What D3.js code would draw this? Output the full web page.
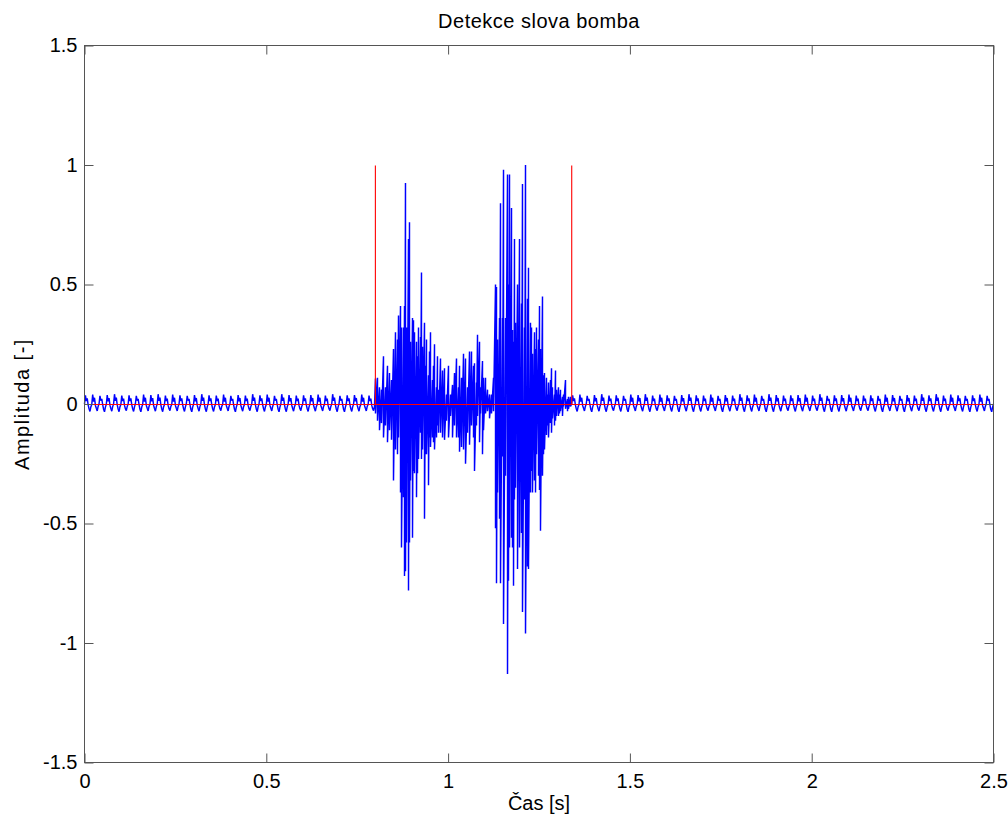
<!DOCTYPE html>
<html><head><meta charset="utf-8">
<script src="https://cdn.jsdelivr.net/npm/d3@7"></script>
<style>body{margin:0;background:#fff} text{font-family:"Liberation Sans",Arial,Helvetica,sans-serif;fill:#000}</style>
</head><body><svg id="c" width="1008" height="817"></svg>
<script>
const titleText = "Detekce slova bomba";
const xLabelText = "Čas [s]";
const yLabelText = "Amplituda [-]";
const xTicks = [0, 0.5, 1, 1.5, 2, 2.5];
const yTicks = [-1.5, -1, -0.5, 0, 0.5, 1, 1.5];
const xDomain = [0, 2.5];
const yDomain = [-1.5, 1.5];

// 50 Hz hum in the silent parts (sample step in seconds)
const humStep = 0.0025;
const humAStart = 0;
const humA = [
0.000,0.036,0.012,0.024,-0.004,-0.020,-0.031,-0.012, -0.002,0.039,0.010,0.026,-0.006,-0.018,-0.029,-0.010, 0.001,0.034,0.014,0.022,-0.003,-0.022,-0.033,-0.013, -0.001,0.037,0.011,0.025,-0.005,-0.019,-0.030,-0.011, 0.000,0.041,0.013,0.027,-0.004,-0.021,-0.032,-0.012,
-0.002,0.035,0.012,0.023,-0.006,-0.020,-0.028,-0.010, 0.000,0.036,0.012,0.024,-0.004,-0.020,-0.031,-0.012, 0.001,0.034,0.014,0.022,-0.003,-0.022,-0.033,-0.013, -0.002,0.039,0.010,0.026,-0.006,-0.018,-0.029,-0.010, -0.001,0.037,0.011,0.025,-0.005,-0.019,-0.030,-0.011,
0.000,0.041,0.013,0.027,-0.004,-0.021,-0.032,-0.012, -0.002,0.035,0.012,0.023,-0.006,-0.020,-0.028,-0.010, -0.002,0.039,0.010,0.026,-0.006,-0.018,-0.029,-0.010, 0.000,0.036,0.012,0.024,-0.004,-0.020,-0.031,-0.012, 0.001,0.034,0.014,0.022,-0.003,-0.022,-0.033,-0.013,
-0.001,0.037,0.011,0.025,-0.005,-0.019,-0.030,-0.011, 0.000,0.041,0.013,0.027,-0.004,-0.021,-0.032,-0.012, 0.000,0.036,0.012,0.024,-0.004,-0.020,-0.031,-0.012, -0.002,0.035,0.012,0.023,-0.006,-0.020,-0.028,-0.010, -0.002,0.039,0.010,0.026,-0.006,-0.018,-0.029,-0.010,
0.001,0.034,0.014,0.022,-0.003,-0.022,-0.033,-0.013, -0.001,0.037,0.011,0.025,-0.005,-0.019,-0.030,-0.011, -0.002,0.035,0.012,0.023,-0.006,-0.020,-0.028,-0.010, 0.000,0.041,0.013,0.027,-0.004,-0.021,-0.032,-0.012, 0.000,0.036,0.012,0.024,-0.004,-0.020,-0.031,-0.012,
-0.002,0.039,0.010,0.026,-0.006,-0.018,-0.029,-0.010, 0.001,0.034,0.014,0.022,-0.003,-0.022,-0.033,-0.013, 0.000,0.041,0.013,0.027,-0.004,-0.021,-0.032,-0.012, -0.001,0.037,0.011,0.025,-0.005,-0.019,-0.030,-0.011, -0.002,0.035,0.012,0.023,-0.006,-0.020,-0.028,-0.010,
0.000,0.036,0.012,0.024,-0.004,-0.020,-0.031,-0.012, -0.001,0.037,0.011,0.025,-0.005,-0.019,-0.030,-0.011, -0.002,0.039,0.010,0.026,-0.006,-0.018,-0.029,-0.010, -0.002,0.035,0.012,0.023,-0.006,-0.020,-0.028,-0.010, 0.000,0.041,0.013,0.027,-0.004,-0.021,-0.032,-0.012,
0.001,0.034,0.014,0.022,-0.003,-0.022,-0.033,-0.013, 0.000,0.036,0.012,0.024,-0.004,-0.020,-0.031,-0.012, -0.001,0.037,0.011,0.025,-0.005,-0.019,-0.030,-0.011, -0.002,0.039,0.010,0.026,-0.006,-0.018,-0.029,-0.010, -0.002,0.035,0.012,0.023,-0.006,-0.020,-0.028,-0.010
];
const humBStart = 1.34;
const humB = [
0.000,0.036,0.012,0.024,-0.004,-0.020,-0.031,-0.012, -0.002,0.039,0.010,0.026,-0.006,-0.018,-0.029,-0.010, 0.001,0.034,0.014,0.022,-0.003,-0.022,-0.033,-0.013, -0.001,0.037,0.011,0.025,-0.005,-0.019,-0.030,-0.011, 0.000,0.041,0.013,0.027,-0.004,-0.021,-0.032,-0.012,
-0.002,0.035,0.012,0.023,-0.006,-0.020,-0.028,-0.010, 0.000,0.036,0.012,0.024,-0.004,-0.020,-0.031,-0.012, 0.001,0.034,0.014,0.022,-0.003,-0.022,-0.033,-0.013, -0.002,0.039,0.010,0.026,-0.006,-0.018,-0.029,-0.010, -0.001,0.037,0.011,0.025,-0.005,-0.019,-0.030,-0.011,
0.000,0.041,0.013,0.027,-0.004,-0.021,-0.032,-0.012, -0.002,0.035,0.012,0.023,-0.006,-0.020,-0.028,-0.010, -0.002,0.039,0.010,0.026,-0.006,-0.018,-0.029,-0.010, 0.000,0.036,0.012,0.024,-0.004,-0.020,-0.031,-0.012, 0.001,0.034,0.014,0.022,-0.003,-0.022,-0.033,-0.013,
-0.001,0.037,0.011,0.025,-0.005,-0.019,-0.030,-0.011, 0.000,0.041,0.013,0.027,-0.004,-0.021,-0.032,-0.012, 0.000,0.036,0.012,0.024,-0.004,-0.020,-0.031,-0.012, -0.002,0.035,0.012,0.023,-0.006,-0.020,-0.028,-0.010, -0.002,0.039,0.010,0.026,-0.006,-0.018,-0.029,-0.010,
0.001,0.034,0.014,0.022,-0.003,-0.022,-0.033,-0.013, -0.001,0.037,0.011,0.025,-0.005,-0.019,-0.030,-0.011, -0.002,0.035,0.012,0.023,-0.006,-0.020,-0.028,-0.010, 0.000,0.041,0.013,0.027,-0.004,-0.021,-0.032,-0.012, 0.000,0.036,0.012,0.024,-0.004,-0.020,-0.031,-0.012,
-0.002,0.039,0.010,0.026,-0.006,-0.018,-0.029,-0.010, 0.001,0.034,0.014,0.022,-0.003,-0.022,-0.033,-0.013, 0.000,0.041,0.013,0.027,-0.004,-0.021,-0.032,-0.012, -0.001,0.037,0.011,0.025,-0.005,-0.019,-0.030,-0.011, -0.002,0.035,0.012,0.023,-0.006,-0.020,-0.028,-0.010,
0.000,0.036,0.012,0.024,-0.004,-0.020,-0.031,-0.012, -0.001,0.037,0.011,0.025,-0.005,-0.019,-0.030,-0.011, -0.002,0.039,0.010,0.026,-0.006,-0.018,-0.029,-0.010, -0.002,0.035,0.012,0.023,-0.006,-0.020,-0.028,-0.010, 0.000,0.041,0.013,0.027,-0.004,-0.021,-0.032,-0.012,
0.001,0.034,0.014,0.022,-0.003,-0.022,-0.033,-0.013, 0.000,0.036,0.012,0.024,-0.004,-0.020,-0.031,-0.012, -0.001,0.037,0.011,0.025,-0.005,-0.019,-0.030,-0.011, -0.002,0.039,0.010,0.026,-0.006,-0.018,-0.029,-0.010, -0.002,0.035,0.012,0.023,-0.006,-0.020,-0.028,-0.010,
-0.002,0.035,0.012,0.023,-0.006,-0.020,-0.028,-0.010, 0.000,0.036,0.012,0.024,-0.004,-0.020,-0.031,-0.012, 0.001,0.034,0.014,0.022,-0.003,-0.022,-0.033,-0.013, -0.002,0.039,0.010,0.026,-0.006,-0.018,-0.029,-0.010, -0.001,0.037,0.011,0.025,-0.005,-0.019,-0.030,-0.011,
0.001,0.034,0.014,0.022,-0.003,-0.022,-0.033,-0.013, -0.001,0.037,0.011,0.025,-0.005,-0.019,-0.030,-0.011, -0.002,0.035,0.012,0.023,-0.006,-0.020,-0.028,-0.010, 0.000,0.041,0.013,0.027,-0.004,-0.021,-0.032,-0.012, 0.000,0.036,0.012,0.024,-0.004,-0.020,-0.031,-0.012,
0.000,0.041,0.013,0.027,-0.004,-0.021,-0.032,-0.012, -0.002,0.035,0.012,0.023,-0.006,-0.020,-0.028,-0.010, -0.002,0.039,0.010,0.026,-0.006,-0.018,-0.029,-0.010, 0.000,0.036,0.012,0.024,-0.004,-0.020,-0.031,-0.012, 0.001,0.034,0.014,0.022,-0.003,-0.022,-0.033,-0.013,
0.000,0.036,0.012,0.024,-0.004,-0.020,-0.031,-0.012, -0.002,0.039,0.010,0.026,-0.006,-0.018,-0.029,-0.010, 0.001,0.034,0.014,0.022,-0.003,-0.022,-0.033,-0.013,
0.000
];

// speech burst: [time s, max, min] per pixel column of the reference
const speechEnvelope = [
[0.8003,0.107,-0.04],[0.8058,0.11,-0.07],[0.8113,0.07,-0.11],[0.8168,0.06,-0.08],[0.8223,0.20,-0.14],
[0.8278,0.07,-0.09],[0.8333,0.16,-0.16],[0.8388,0.13,-0.11],[0.8443,0.10,-0.15],[0.8498,0.23,-0.32],
[0.8553,0.30,-0.19],[0.8608,0.27,-0.21],[0.8636,0.37,-0.14],[0.8691,0.41,-0.37],[0.8718,0.32,-0.60],
[0.8773,0.32,-0.39],[0.8801,0.41,-0.72],[0.8828,0.925,-0.70],[0.8856,0.32,-0.58],[0.8911,0.69,-0.78],
[0.8938,0.76,-0.58],[0.8966,0.26,-0.32],[0.9021,0.36,-0.56],[0.9048,0.35,-0.28],[0.9076,0.30,-0.29],
[0.9131,0.26,-0.39],[0.9158,0.20,-0.29],[0.9186,0.32,-0.23],[0.9241,0.28,-0.12],[0.9268,0.55,-0.23],
[0.9296,0.24,-0.19],[0.9351,0.34,-0.48],[0.9378,0.16,-0.21],[0.9406,0.27,-0.21],[0.9461,0.12,-0.34],
[0.9488,0.22,-0.14],[0.9516,0.30,-0.18],[0.9571,0.10,-0.14],[0.9598,0.16,-0.16],[0.9626,0.25,-0.19],
[0.9681,0.07,-0.14],[0.9708,0.20,-0.09],[0.9736,0.06,-0.12],[0.9791,0.19,-0.12],[0.9846,0.14,-0.14],
[0.9901,0.15,-0.15],[0.9956,0.04,-0.07],[1.0011,0.16,-0.14],[1.0066,0.04,-0.05],[1.0121,0.08,-0.14],
[1.0176,0.13,-0.09],[1.0231,0.19,-0.14],[1.0286,0.07,-0.14],[1.0314,0.16,-0.20],[1.0369,0.11,-0.18],
[1.0424,0.21,-0.19],[1.0479,0.19,-0.25],[1.0534,0.07,-0.12],[1.0589,0.22,-0.17],[1.0644,0.22,-0.09],
[1.0699,0.16,-0.14],[1.0726,0.17,-0.28],[1.0781,0.09,-0.09],[1.0809,0.29,-0.05],[1.0864,0.26,-0.16],
[1.0891,0.07,-0.04],[1.0946,0.18,-0.21],[1.0974,0.11,-0.11],[1.1029,0.11,-0.04],[1.1084,0.06,-0.03],
[1.1139,0.04,-0.06],[1.1194,0.04,-0.04],[1.1249,0.11,-0.03],[1.1304,0.50,-0.52],[1.1331,0.49,-0.75],
[1.1359,0.27,-0.37],[1.1414,0.36,-0.48],[1.1441,0.84,-0.75],[1.1496,0.36,-0.22],[1.1524,0.98,-0.92],
[1.1579,0.36,-0.30],[1.1634,0.96,-1.13],[1.1661,0.50,-0.74],[1.1689,0.96,-0.60],[1.1744,0.82,-0.56],
[1.1771,0.31,-0.60],[1.1799,0.26,-0.76],[1.1826,0.69,-0.40],[1.1854,0.34,-0.35],[1.1909,0.50,-0.69],
[1.1964,0.69,-0.60],[1.2019,0.42,-0.54],[1.2046,0.92,-0.87],[1.2101,0.32,-0.40],[1.2129,1.00,-0.96],
[1.2184,0.44,-0.68],[1.2211,0.57,-0.69],[1.2266,0.34,-0.37],[1.2294,0.32,-0.28],[1.2321,0.21,-0.37],
[1.2376,0.30,-0.32],[1.2404,0.23,-0.37],[1.2431,0.32,-0.21],[1.2486,0.27,-0.30],[1.2514,0.41,-0.36],
[1.2541,0.23,-0.53],[1.2596,0.45,-0.30],[1.2624,0.12,-0.21],[1.2651,0.13,-0.19],[1.2706,0.11,-0.13],
[1.2734,0.04,-0.09],[1.2761,0.09,-0.14],[1.2816,0.10,-0.08],[1.2844,0.15,-0.12],[1.2871,0.07,-0.06],
[1.2926,0.04,-0.09],[1.2954,0.14,-0.07],[1.2981,0.06,-0.05],[1.3036,0.07,-0.05],[1.3064,0.04,-0.04],
[1.3091,0.06,-0.03],[1.3146,0.03,-0.05],[1.3174,0.04,-0.01],[1.3229,0.10,-0.02],[1.3284,0.02,-0.03],
[1.3311,0.03,-0.02],[1.3366,0.03,-0.01]
];

// detection (red)
const detectTime  = [0, 0.80, 0.80, 0.80, 1.34, 1.34, 1.34, 2.5];
const detectValue = [0, 0,    1,    0,    0,    1,    0,    0];

const svg = d3.select("#c");
const L = 84.5, R = 993.5, T = 45.5, B = 762.5;
const x = d3.scaleLinear().domain(xDomain).range([L, R]);
const y = d3.scaleLinear().domain(yDomain).range([B, T]);
const axisColor = "#555";
const fs = 20;

// build blue signal
const sig = [];
humA.forEach((v, i) => sig.push([humAStart + i * humStep, v]));
speechEnvelope.forEach(r => { sig.push([r[0], r[1]]); sig.push([r[0], r[2]]); });
humB.forEach((v, i) => sig.push([humBStart + i * humStep, v]));

const line = d3.line().x(d => x(d[0])).y(d => y(d[1]));

svg.append("rect").attr("x", 0).attr("y", 0).attr("width", 1008).attr("height", 817).attr("fill", "#fff");

svg.append("path").datum(sig).attr("d", line)
  .attr("fill", "none").attr("stroke", "#0000ff").attr("stroke-width", 1.45).attr("stroke-linejoin", "bevel");

const det = detectTime.map((t, i) => [t, detectValue[i]]);
svg.append("path").datum(det).attr("d", line).attr("transform", "translate(0,0.5)")
  .attr("fill", "none").attr("stroke", "#ff0000").attr("stroke-width", 1.1);

// axes
const fmt = d => String(d);
function styleAxis(g, showText) {
  g.select(".domain").remove();
  g.selectAll(".tick line").attr("stroke", axisColor);
  g.selectAll(".tick text").style("font-size", fs + "px").attr("fill", "#000")
    .style("font-family", '"Liberation Sans", Arial, sans-serif');
  if (!showText) g.selectAll(".tick text").remove();
}
svg.append("g").attr("transform", `translate(0,${B})`)
  .call(d3.axisBottom(x).tickValues(xTicks).tickFormat(fmt).tickSize(-9).tickPadding(11))
  .call(g => styleAxis(g, true));
svg.append("g").attr("transform", `translate(0,${T})`)
  .call(d3.axisTop(x).tickValues(xTicks).tickSize(-9))
  .call(g => styleAxis(g, false));
svg.append("g").attr("transform", `translate(${L},0)`)
  .call(d3.axisLeft(y).tickValues(yTicks).tickFormat(fmt).tickSize(-9).tickPadding(7))
  .call(g => styleAxis(g, true));
svg.append("g").attr("transform", `translate(${R},0)`)
  .call(d3.axisRight(y).tickValues(yTicks).tickSize(-9))
  .call(g => styleAxis(g, false));

svg.append("rect").attr("x", L).attr("y", T).attr("width", R - L).attr("height", B - T)
  .attr("fill", "none").attr("stroke", axisColor).attr("stroke-width", 1);

svg.append("text").attr("x", (L + R) / 2).attr("y", 28).attr("text-anchor", "middle")
  .style("font-size", fs + "px").style("letter-spacing", "0.5px").text(titleText);
svg.append("text").attr("x", (L + R) / 2).attr("y", 810).attr("text-anchor", "middle")
  .style("font-size", fs + "px").text(xLabelText);
svg.append("text").attr("transform", `translate(29,${(T + B) / 2}) rotate(-90)`).attr("text-anchor", "middle")
  .style("font-size", fs + "px").style("letter-spacing", "1.5px").text(yLabelText);
</script>
</body></html>
